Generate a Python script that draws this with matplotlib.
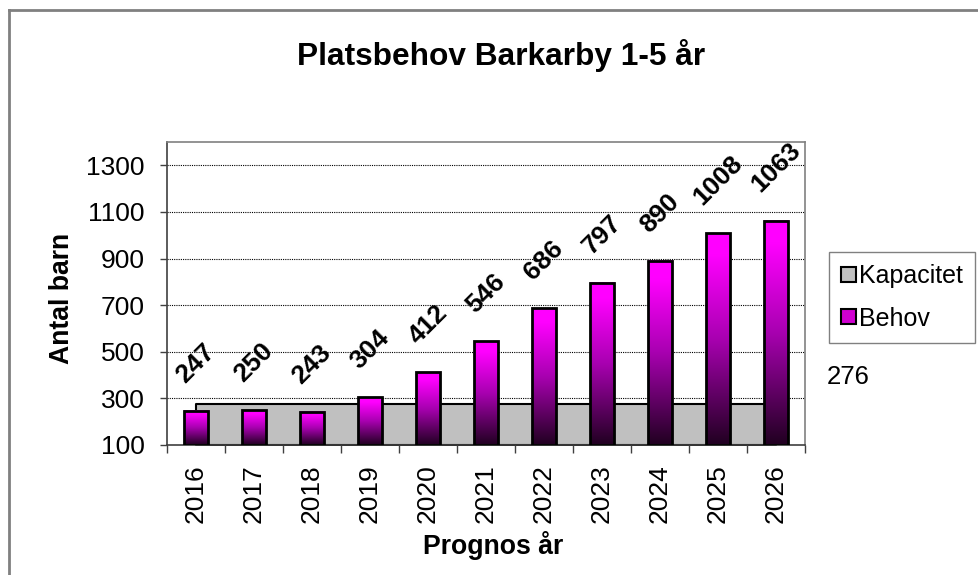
import matplotlib
matplotlib.use("Agg")
import matplotlib.pyplot as plt
import numpy as np
from matplotlib.colors import LinearSegmentedColormap
from matplotlib.lines import Line2D
from matplotlib.patches import Patch

plt.rcParams['font.family'] = ['Liberation Sans', 'DejaVu Sans']

years = ['2016', '2017', '2018', '2019', '2020', '2021', '2022', '2023', '2024', '2025', '2026']
behov = [247, 250, 243, 304, 412, 546, 686, 797, 890, 1008, 1063]
kapacitet = [276] * len(years)
y_ticks = [100, 300, 500, 700, 900, 1100, 1300]

W, H = 979, 575
fig = plt.figure(figsize=(W / 100, H / 100), dpi=100)
ax = fig.add_axes([167 / W, 1 - 445 / H, (805 - 167) / W, (445 - 142) / H])

x = np.arange(len(years))
base = 100

# kapacitet as a flat grey area behind the bars
ax.fill_between(x, base, kapacitet, facecolor='#c0c0c0', edgecolor='black',
                linewidth=1.5, zorder=1)

# gradient bars: dark at the bottom, magenta on top
cmap = LinearSegmentedColormap.from_list(
    'behov', [(0, '#200020'), (0.5, '#a800b0'), (0.9, '#ff00ff'), (1, '#ff00ff')])
grad = np.linspace(0, 1, 256).reshape(-1, 1)
bw = 0.42
for xi, v in zip(x, behov):
    ax.imshow(grad, extent=[xi - bw / 2, xi + bw / 2, base, v], origin='lower',
              cmap=cmap, aspect='auto', zorder=2, interpolation='bilinear')
ax.bar(x, np.array(behov) - base, bottom=base, width=bw, facecolor='none',
       edgecolor='black', linewidth=2, zorder=3)

# value labels: rotated box centred over the bar
for xi, v in zip(x, behov):
    ax.annotate(str(v), (xi, v), xytext=(0, 17), textcoords='offset points',
                rotation=45, ha='center', va='bottom',
                fontsize=19, fontweight='bold', zorder=4)

ax.set_xlim(-0.5, len(years) - 0.5)
ax.set_ylim(100, 1400)
ax.set_yticks(y_ticks)
ax.set_yticklabels([str(t) for t in y_ticks], fontsize=19)
ax.tick_params(axis='y', length=5, width=1, pad=11, colors='#404040', labelcolor='black')

ax.set_xticks(x)
ax.set_xticklabels(years, rotation=90, fontsize=19)
ax.set_xticks(np.arange(-0.5, len(years)), minor=True)
ax.tick_params(axis='x', which='major', length=0, pad=14)
ax.tick_params(axis='x', which='minor', length=6, width=1, color='#404040')

for t in y_ticks[1:]:
    ax.axhline(t, color='black', linewidth=0.8, linestyle=(0, (1, 1)), zorder=0.5)

ax.spines['left'].set_color('#404040')
ax.spines['bottom'].set_color('#404040')
ax.spines['top'].set_color('#808080')
ax.spines['right'].set_color('#808080')
for s in ax.spines.values():
    s.set_linewidth(1.2)

fig.text(501 / W, 1 - 55 / H, 'Platsbehov Barkarby 1-5 år', ha='center', va='center',
         fontsize=22.8, fontweight='bold')
fig.text(62 / W, 1 - 298 / H, 'Antal barn', rotation=90, ha='center', va='center',
         fontsize=19.2, fontweight='bold')
fig.text(493 / W, 1 - 546 / H, 'Prognos år', ha='center', va='center',
         fontsize=19.2, fontweight='bold')
fig.text(848 / W, 1 - 377 / H, '276', ha='center', va='center', fontsize=18.5)

handles = [Patch(facecolor='#c0c0c0', edgecolor='black', linewidth=1.5),
           Patch(facecolor='#d000d0', edgecolor='black', linewidth=1.5)]
leg = fig.legend(handles, ['Kapacitet', 'Behov'], loc='upper left',
                 bbox_to_anchor=(829 / W, 1 - 252 / H), borderaxespad=0,
                 fontsize=18, handlelength=0.6, handleheight=0.55,
                 handletextpad=0.1, labelspacing=0.72, borderpad=0.5,
                 fancybox=False, edgecolor='#808080', framealpha=1)
leg.get_frame().set_linewidth(1)

# outer chart border (only left and top are visible in the crop)
fig.add_artist(Line2D([9 / W, 9 / W], [0, 1 - 10 / H], color='#808080', linewidth=2))
fig.add_artist(Line2D([9 / W, 1], [1 - 10 / H, 1 - 10 / H], color='#808080', linewidth=2))

fig.savefig('out.png', dpi=100)
